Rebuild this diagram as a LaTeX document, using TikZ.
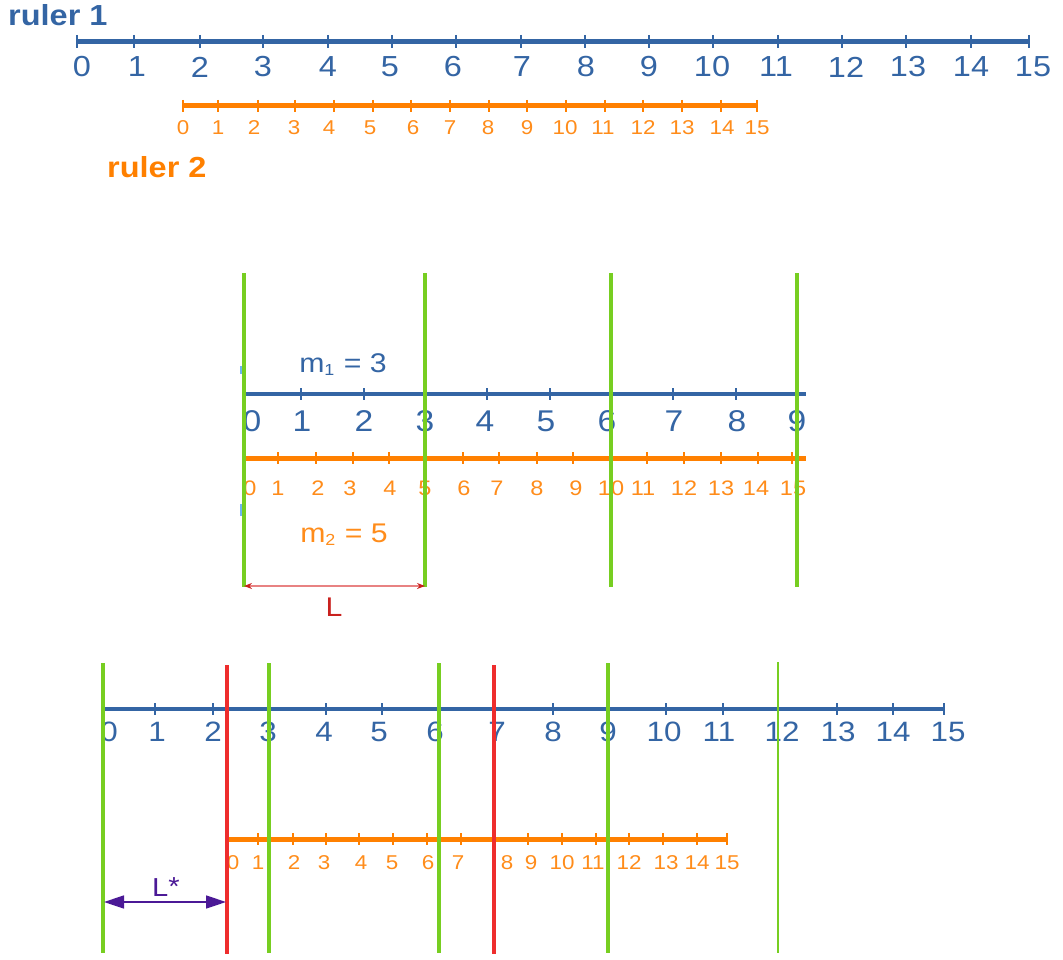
\documentclass[tikz,border=0pt]{standalone}
\usepackage{fontspec}
\setmainfont{Liberation Sans}[FakeStretch=1.12]
\usetikzlibrary{arrows.meta}

\definecolor{rulerblue}{RGB}{52,101,164}
\definecolor{rulerorange}{RGB}{255,128,0}
\definecolor{labelorange}{RGB}{255,140,26}
\definecolor{markgreen}{RGB}{119,206,33}
\definecolor{markred}{RGB}{238,45,45}
\definecolor{lstarpurple}{RGB}{75,25,150}
\definecolor{ldarkred}{RGB}{201,33,30}
\definecolor{llinered}{RGB}{232,130,130}
\definecolor{faintblue}{RGB}{110,180,240}

\newcommand{\fs}[1]{\fontsize{#1}{#1}\selectfont}

\tikzset{
  bluebar/.style={draw=rulerblue, line width=4.5pt},
  orangebar/.style={draw=rulerorange, line width=5pt},
  bluetick/.style={draw=rulerblue, line width=2pt},
  orangetick/.style={draw=rulerorange, line width=2pt},
  bigblue/.style={text=rulerblue, inner sep=0pt, font=\fs{29}},
  smallorange/.style={text=labelorange, inner sep=0pt, font=\fs{20}},
  midorange/.style={text=labelorange, inner sep=0pt, font=\fs{21}},
  greenmark/.style={draw=markgreen, line width=4pt},
  thingreen/.style={draw=markgreen, line width=2pt},
  redmark/.style={draw=markred, line width=4.5pt},
  title/.style={inner sep=0pt, font=\bfseries\fs{29}},
}

\begin{document}
\begin{tikzpicture}[x=1pt,y=-1pt]
\useasboundingbox (0,0) rectangle (1063,960);

% ---------------- two rulers with different unit lengths ----------------
\node[title, text=rulerblue, anchor=west] (t1) at (8,15) {ruler 1};
\draw[bluebar] (77,41.5) -- (1029,41.5);
\foreach \t/\l [count=\i from 0] in {77/82,134/137,200/200,263/263,328/328,392/390,
    456/453,521/522,585/586,649/649,713/712,778/776,842/846,906/908,971/971,1029/1033}{
  \draw[bluetick] (\t,35) -- (\t,48);
  \node[bigblue] (ra\i) at (\l,67) {\i};
}

\draw[orangebar] (183,106) -- (757,106);
\foreach \t/\l [count=\i from 0] in {183/183,218/218,258/254,295/294,334/329,373/370,
    411/413,450/450,489/488,527/527,566/565,605/603,643/643,682/682,721/722,757/757}{
  \draw[orangetick] (\t,100) -- (\t,112);
  \node[smallorange] (rb\i) at (\l,128) {\i};
}
\node[title, text=rulerorange, anchor=west] (t2) at (107,167) {ruler 2};

% ---------------- common marks of m1 = 3 and m2 = 5 ----------------
\draw[bluebar] (244,394) -- (806,394);
\foreach \t/\l [count=\i from 0] in {244/252,301/302,364/364,425/425,487/485,550/546,
    611/607,673/674,736/737,797/797}{
  \draw[bluetick] (\t,388) -- (\t,400);
  \node[bigblue, font=\fs{30}] (mb\i) at (\l,421) {\i};
}
\draw[orangebar] (244,458) -- (806,458);
\foreach \t/\l [count=\i from 0] in {244/250,278/278,316/318,353/350,389/390,425/425,
    463/464,499/497,537/537,573/576,611/611,647/643,684/684,721/721,758/756,792/793}{
  \draw[orangetick] (\t,452) -- (\t,464);
  \node[midorange] (mo\i) at (\l,488) {\i};
}
\node[inner sep=0pt, text=rulerblue, font=\fs{27}] (m1) at (343,365)
  {m\raisebox{-3pt}{\fs{16}1}\hspace{1pt} = 3};
\node[inner sep=0pt, text=labelorange, font=\fs{27}] (m2) at (344,535)
  {m\raisebox{-3pt}{\fs{16}2}\hspace{1pt} = 5};

\draw[faintblue, line width=1.5pt] (241,366) -- (241,374);
\draw[faintblue, line width=1.5pt] (241,504) -- (241,516);

\foreach \x [count=\i] in {244,425,611,797}{
  \coordinate (gt\i) at (\x,273);
  \coordinate (gb\i) at (\x,587);
  \draw[greenmark] (gt\i) -- (gb\i);
}
\coordinate (la) at (244,586);
\coordinate (lb) at (425,586);
\draw[llinered, line width=1.3pt,
  {Stealth[length=8pt,width=6pt,color=ldarkred]}-{Stealth[length=8pt,width=6pt,color=ldarkred]}]
  (la) -- (lb);
\node[inner sep=0pt, text=ldarkred, font=\fs{27}] (L) at (334,607) {L};

% ---------------- shifted start: coincidences and the offset L* ----------------
\draw[bluebar] (103,709) -- (944,709);
\foreach \t/\l [count=\i from 0] in {103/109,155/157,213/213,269/268,326/324,382/379,
    439/435,494/497,553/553,608/608,666/664,723/719,778/782,837/838,893/893,944/948}{
  \draw[bluetick] (\t,703) -- (\t,715);
  \node[bigblue, font=\fs{28}] (lb\i) at (\l,732) {\i};
}
\draw[orangebar] (227,839) -- (727,839);
\foreach \t/\l [count=\i from 0] in {227/233,258/258,293/294,326/324,359/361,393/392,
    427/428,461/458,494/507,528/531,562/562,596/593,629/629,663/666,697/697,727/727}{
  \draw[orangetick] (\t,833) -- (\t,845);
  \node[smallorange] (lo\i) at (\l,863) {\i};
}

\foreach \x [count=\i] in {103,269,439,608}{
  \coordinate (ht\i) at (\x,663);
  \coordinate (hb\i) at (\x,953);
  \draw[greenmark] (ht\i) -- (hb\i);
}
\coordinate (ht5) at (778,662);
\coordinate (hb5) at (778,953);
\draw[thingreen] (ht5) -- (hb5);
\foreach \x [count=\i] in {227,494}{
  \coordinate (rt\i) at (\x,665);
  \coordinate (rb\i) at (\x,954);
  \draw[redmark] (rt\i) -- (rb\i);
}

\coordinate (sa) at (104,902);
\coordinate (sb) at (226,902);
\draw[lstarpurple, line width=1.6pt,
  {Triangle[length=20pt,width=13pt]}-{Triangle[length=20pt,width=13pt]}] (sa) -- (sb);
\node[inner sep=0pt, text=lstarpurple, font=\fs{26}] (Lstar) at (166,887) {L\raisebox{1pt}{*}};
\end{tikzpicture}
\end{document}
